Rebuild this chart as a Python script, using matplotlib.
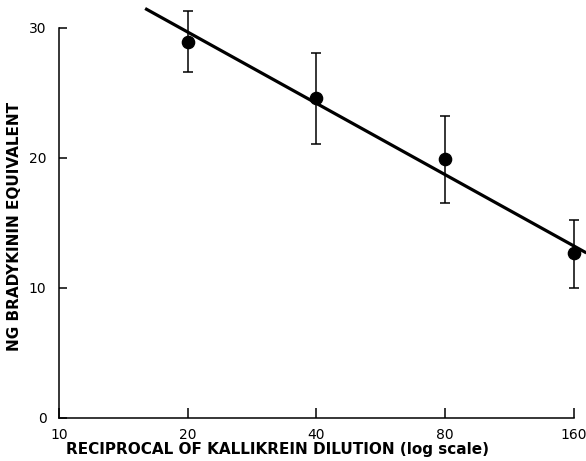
import numpy as np
import matplotlib
matplotlib.use("Agg")
import matplotlib.pyplot as plt

plt.rcParams["font.family"] = ["DejaVu Sans"]

# data
dilution = [20, 40, 80, 160]
ng_equiv = [28.9, 24.6, 19.9, 12.7]
err_low = [26.6, 21.1, 16.5, 10.0]
err_high = [31.3, 28.1, 23.2, 15.2]

# fitted line end points
fit_x = [15.9, 171]
fit_y = [31.5, 12.7]

xticks = [10, 20, 40, 80, 160]
yticks = [0, 10, 20, 30]

fig = plt.figure(figsize=(5.86, 4.61), dpi=100)
ax = fig.add_axes([0.1007, 0.0933, 0.8788, 0.846])

ng = np.array(ng_equiv)
yerr = [ng - np.array(err_low), np.array(err_high) - ng]

ax.plot(fit_x, fit_y, color="k", linewidth=2.3, clip_on=False, solid_capstyle="butt")
ax.errorbar(dilution, ng_equiv, yerr=yerr, fmt="o", color="k", markersize=8.8,
	ecolor="k", elinewidth=1.1, capsize=3.8, capthick=1.1, clip_on=False)

ax.set_xscale("log", base=2)
ax.set_xlim(10, 160)
ax.set_ylim(0, 30)
ax.set_xticks(xticks)
ax.set_xticklabels([str(t) for t in xticks])
ax.set_yticks(yticks)
ax.set_yticklabels([str(t) for t in yticks])
ax.minorticks_off()

for s in ["top", "right"]:
	ax.spines[s].set_visible(False)
for s in ["left", "bottom"]:
	ax.spines[s].set_linewidth(1.1)

ax.tick_params(axis="x", direction="in", length=7.5, width=1.1, pad=7, labelsize=10)
ax.tick_params(axis="y", direction="in", length=6, width=1.1, pad=9, labelsize=10)

ax.set_xlabel("RECIPROCAL OF KALLIKREIN DILUTION (log scale)", fontsize=11, fontweight="bold")
ax.xaxis.set_label_coords(0.425, -0.062)
ax.set_ylabel("NG BRADYKININ EQUIVALENT", fontsize=11, fontweight="bold")
ax.yaxis.set_label_coords(-0.072, 0.49)

fig.savefig("out.png", dpi=100)
